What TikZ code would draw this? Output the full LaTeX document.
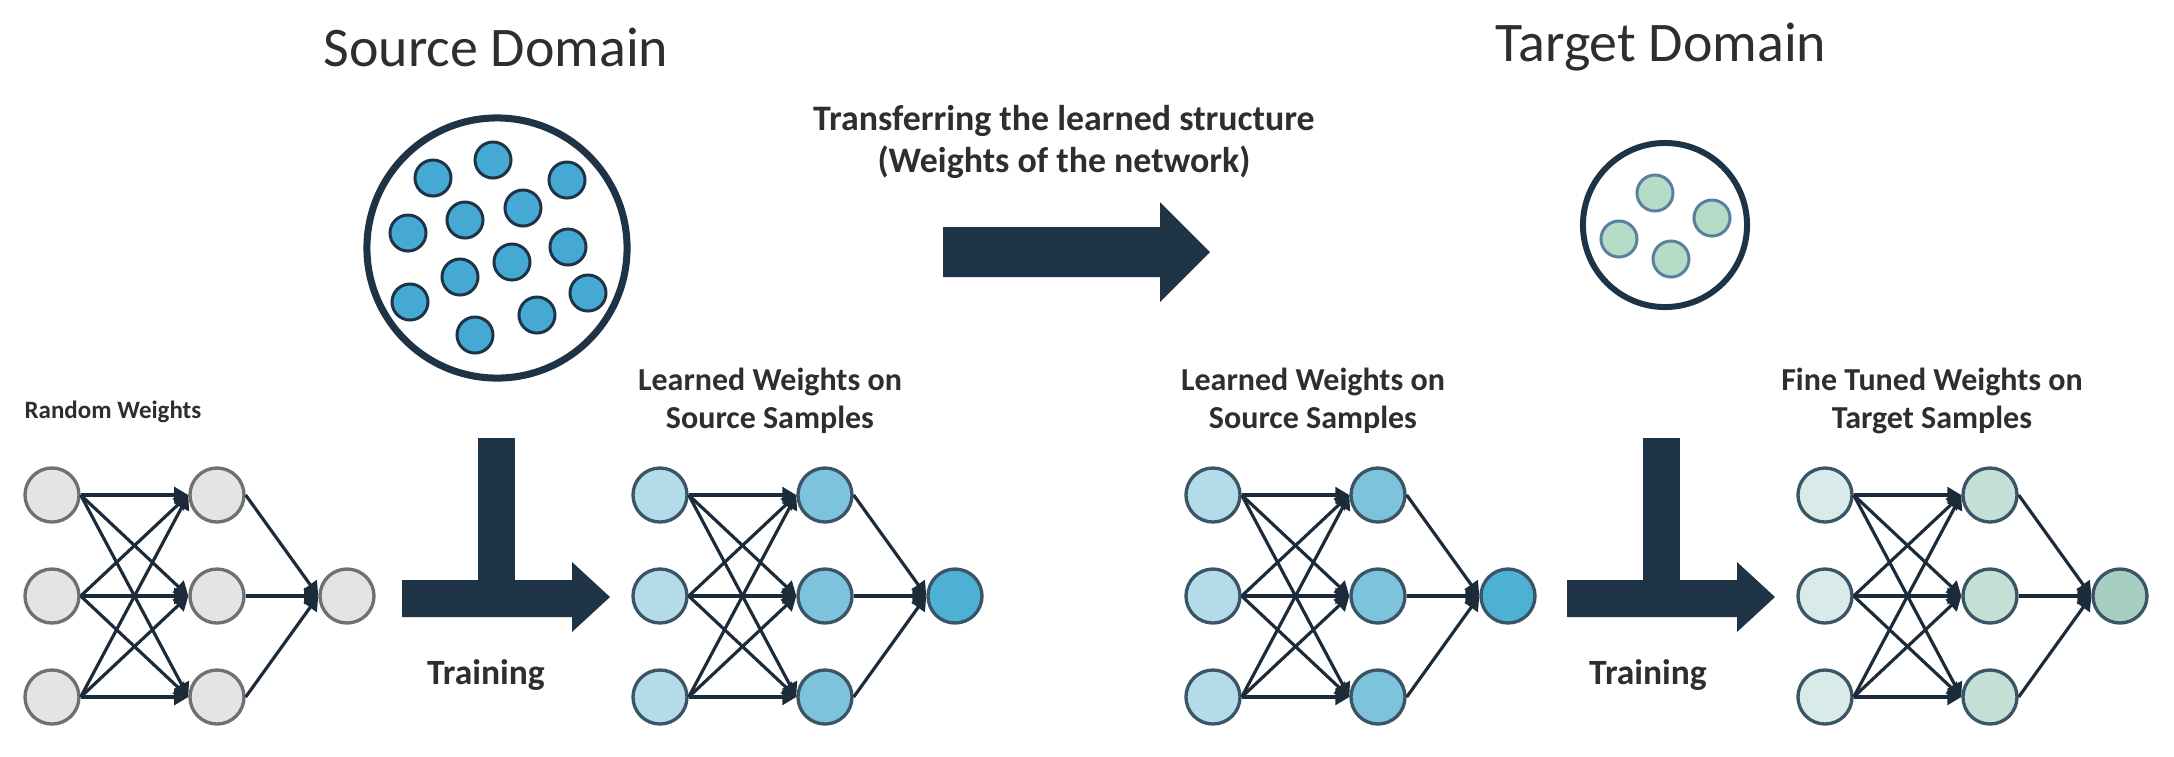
\documentclass[tikz,border=0pt]{standalone}
\usepackage{fontspec}
\setmainfont{Carlito}
\usepackage{tikz}
\usetikzlibrary{arrows.meta}

\definecolor{navy}{HTML}{1F3347}
\definecolor{edgecol}{HTML}{1C2B3A}
\definecolor{txtgray}{HTML}{2E2E2E}
\definecolor{randfill}{HTML}{E4E4E4}
\definecolor{randline}{HTML}{707070}
\definecolor{nodeline}{HTML}{3C5566}
\definecolor{srcin}{HTML}{B4DBEA}
\definecolor{srchid}{HTML}{7EC3DC}
\definecolor{srcout}{HTML}{4DB0D5}
\definecolor{tgtin}{HTML}{D9EBE8}
\definecolor{tgthid}{HTML}{C4DFD6}
\definecolor{tgtout}{HTML}{A6CFC2}
\definecolor{dotblue}{HTML}{45A9D3}
\definecolor{dotgreen}{HTML}{B5DCC6}
\definecolor{dotline}{HTML}{5A7FA0}

\tikzset{
  neuron/.style={circle, line width=0.95pt, minimum size=0.54cm, inner sep=0pt},
  wire/.style={draw=edgecol, line width=0.9pt, -{Triangle[length=4pt,width=4.5pt]}},
  sample/.style={circle, line width=0.85pt, minimum size=0.36cm, inner sep=0pt},
  pool/.style={circle, draw=navy, inner sep=0pt},
  lbl/.style={text=txtgray, align=center},
}

\begin{document}
\begin{tikzpicture}[x=0.01cm, y=-0.01cm]
  \useasboundingbox[fill=white] (0,0) rectangle (2174,756);

  % titles
  \node[lbl, font=\fontsize{15.9}{18}\selectfont] (srctitle) at (496,47) {Source Domain};
  \node[lbl, font=\fontsize{15.9}{18}\selectfont] (tgttitle) at (1661,47) {Target Domain};

  % source and target sample pools
  \node[pool, line width=2pt, minimum size=2.6cm] (srcpool) at (497,248) {};
  \foreach \sx/\sy [count=\k] in {493/160, 433/178, 567/180, 523/208, 465/220, 408/233, 568/247,
                                  512/262, 460/277, 410/302, 588/293, 537/315, 475/335}
    \node[sample, draw=navy, fill=dotblue] (src\k) at (\sx,\sy) {};
  \node[pool, line width=1.7pt, minimum size=1.64cm] (tgtpool) at (1665,225) {};
  \foreach \sx/\sy [count=\k] in {1655/193, 1712/218, 1619/239, 1671/259}
    \node[sample, draw=dotline, fill=dotgreen] (tgt\k) at (\sx,\sy) {};

  % transfer arrow
  \node[lbl, font=\bfseries\fontsize{10.2}{12}\selectfont] (transfer) at (1064,142)
    {Transferring the learned structure\\(Weights of the network)};
  \fill[navy] (943,227) -- (1160,227) -- (1160,202) -- (1210,252) -- (1160,302) -- (1160,277) -- (943,277) -- cycle;

  % training arrows
  \foreach \dx in {0,1165} {
    \fill[navy] (402+\dx,580) -- (572+\dx,580) -- (572+\dx,562) -- (610+\dx,597)
      -- (572+\dx,632) -- (572+\dx,617) -- (402+\dx,617) -- cycle;
    \fill[navy] (478+\dx,438) rectangle (515+\dx,617);
  }
  \node[lbl, font=\bfseries\fontsize{10.1}{12}\selectfont] (train1) at (486,675) {Training};
  \node[lbl, font=\bfseries\fontsize{10.1}{12}\selectfont] (train2) at (1648,675) {Training};

  % networks
  \foreach \p/\dx/\ci/\ch/\co/\cl in {r/0/randfill/randfill/randfill/randline,
                                      s/608/srcin/srchid/srcout/nodeline,
                                      l/1161/srcin/srchid/srcout/nodeline,
                                      f/1773/tgtin/tgthid/tgtout/nodeline} {
    \foreach \y [count=\k] in {495,596,697} {
      \node[neuron, draw=\cl, fill=\ci] (\p-i\k) at (52+\dx,\y) {};
      \node[neuron, draw=\cl, fill=\ch] (\p-h\k) at (217+\dx,\y) {};
    }
    \node[neuron, draw=\cl, fill=\co] (\p-o) at (347+\dx,596) {};
    \foreach \a in {1,2,3} {
      \foreach \b in {1,2,3}
        \draw[wire] (\p-i\a.east) -- (\p-h\b.west);
      \draw[wire] (\p-h\a.east) -- (\p-o.west);
    }
  }

  % network labels
  \node[lbl, font=\bfseries\fontsize{7.1}{9}\selectfont] (rlabel) at (113,412) {Random Weights};
  \node[lbl, font=\bfseries\fontsize{9.1}{10.8}\selectfont] (slabel) at (770,401) {Learned Weights on\\Source Samples};
  \node[lbl, font=\bfseries\fontsize{9.1}{10.8}\selectfont] (llabel) at (1313,401) {Learned Weights on\\Source Samples};
  \node[lbl, font=\bfseries\fontsize{9.1}{10.8}\selectfont] (flabel) at (1932,401) {Fine Tuned Weights on\\Target Samples};
\end{tikzpicture}
\end{document}
